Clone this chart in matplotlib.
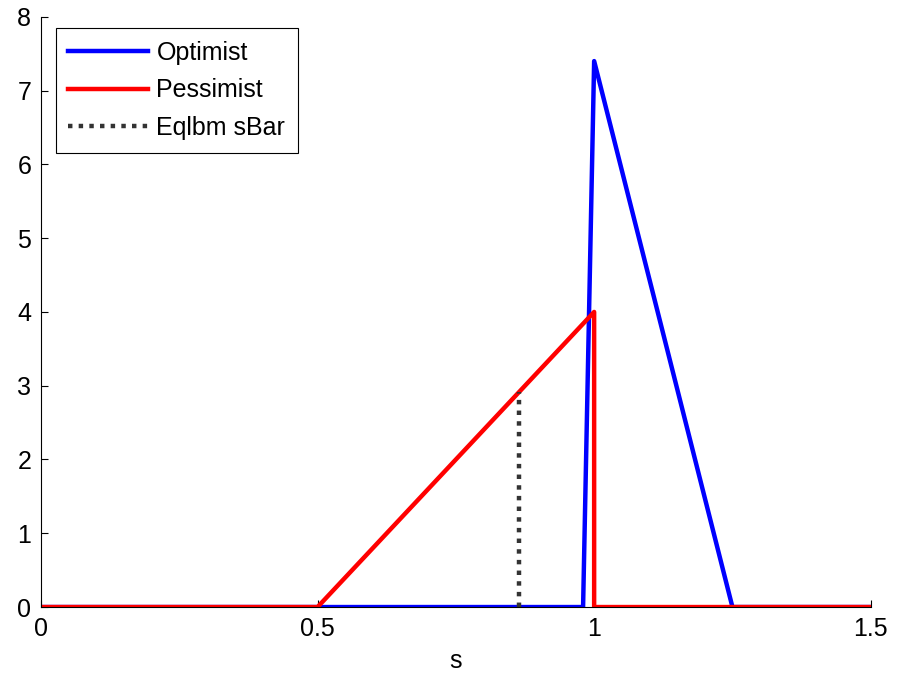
import matplotlib
matplotlib.use("Agg")
import matplotlib.pyplot as plt

plt.rcParams["font.family"] = ["Liberation Sans", "DejaVu Sans"]

# data
opt_s = [0.0, 0.98, 1.0, 1.25, 1.5]
opt_y = [0.0, 0.0, 7.4, 0.0, 0.0]
pes_s = [0.0, 0.5, 1.0, 1.0, 1.5]
pes_y = [0.0, 0.0, 4.0, 0.0, 0.0]
sbar_s = [0.864, 0.864]
sbar_y = [0.0, 2.91]

fig = plt.figure(figsize=(9.07, 6.73), dpi=100)
ax = fig.add_axes([0.0452, 0.098, 0.9148, 0.877])

ax.plot(opt_s, opt_y, color="#0000ff", lw=3.2, label="Optimist", solid_joinstyle="round")
ax.plot(pes_s, pes_y, color="#ff0000", lw=3.2, label="Pessimist", solid_joinstyle="round")
ax.plot(sbar_s, sbar_y, color="#333333", lw=3.2, ls=(0, (1, 1.4)),
        dash_capstyle="butt", label="Eqlbm sBar")

ax.set_xlim(0, 1.5)
ax.set_ylim(0, 8)
ax.set_xticks([0, 0.5, 1, 1.5])
ax.set_xticklabels(["0", "0.5", "1", "1.5"])
ax.set_yticks(range(0, 9))
ax.tick_params(direction="in", length=5, labelsize=18, pad=7, width=0.8)
ax.spines[["top", "right"]].set_visible(False)
ax.set_xlabel("s", fontsize=18, labelpad=6)

leg = ax.legend(loc="upper left", bbox_to_anchor=(0.018, 0.981), fontsize=18,
                frameon=True, fancybox=False, framealpha=1, edgecolor="black",
                handlelength=3.2, handletextpad=0.32, labelspacing=0.55,
                borderpad=0.5, borderaxespad=0)
leg.get_frame().set_linewidth(0.8)

fig.savefig("out.png", dpi=100, facecolor="white")
